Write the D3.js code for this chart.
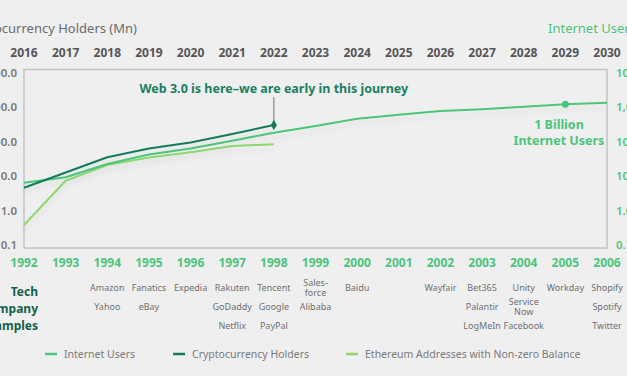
<!DOCTYPE html>
<html lang='en'>
<head>
  <meta charset='UTF-8'>
  <title>Web 3.0 adoption vs Internet</title>
  <style type='text/css'>
    html, body {
      margin: 0;
      padding: 0;
      background: #efefef;
      overflow: hidden;
    }
    svg {
      display: block;
      font-family: 'Noto Sans', sans-serif;
    }
    .line {
      fill: none;
      stroke-width: 2px;
      stroke-linejoin: round;
    }
  </style>
  <script type='text/javascript' src='https://d3js.org/d3.v7.min.js'></script>
</head>
<body>
  <script type='text/javascript'>
    // values (millions, log scale)
    const cryptoYears = [2016, 2017, 2018, 2019, 2020, 2021, 2022, 2023, 2024, 2025, 2026, 2027, 2028, 2029, 2030]
    const internetYears = [1992, 1993, 1994, 1995, 1996, 1997, 1998, 1999, 2000, 2001, 2002, 2003, 2004, 2005, 2006]
    const internetUsers = [6.5, 9.3, 22.6, 43, 64, 108, 184, 288, 470, 614, 786, 881, 1041, 1231, 1370]
    const cryptoHolders = [4.6, 12.8, 35.4, 64, 95, 169, 308]
    const ethAddresses = [0.38, 7.4, 21, 35, 50, 75.5, 85]
    const yTicks = [0.1, 1, 10, 100, 1000, 10000]
    const companies = [
      {year: 1994, names: ['Amazon', 'Yahoo']},
      {year: 1995, names: ['Fanatics', 'eBay']},
      {year: 1996, names: ['Expedia']},
      {year: 1997, names: ['Rakuten', 'GoDaddy', 'Netflix']},
      {year: 1998, names: ['Tencent', 'Google', 'PayPal']},
      {year: 1999, names: ['Sales-\nforce', 'Alibaba']},
      {year: 2000, names: ['Baidu']},
      {year: 2002, names: ['Wayfair']},
      {year: 2003, names: ['Bet365', 'Palantir', 'LogMeIn']},
      {year: 2004, names: ['Unity', 'Service\nNow', 'Facebook']},
      {year: 2005, names: ['Workday']},
      {year: 2006, names: ['Shopify', 'Spotify', 'Twitter']},
    ]
    const seriesNames = ['Internet Users', 'Cryptocurrency Holders', 'Ethereum Addresses with Non-zero Balance']

    const colors = {
      internet: '#4cc47c',
      crypto: '#177a5c',
      eth: '#8dd670',
    }

    const width = 627
    const height = 376

    const svg = d3.select('body').append('svg')
      .attr('width', width)
      .attr('height', height)

    const xTop = d3.scalePoint().domain(cryptoYears).range([24, 607])
    const xBottom = d3.scalePoint().domain(internetYears).range([24, 607])
    const yScale = d3.scaleLog().domain([0.1, 10000]).range([245, 73])

    const defs = svg.append('defs')
    const shadow = defs.append('filter').attr('id', 'shadow')
      .attr('x', '-10%').attr('y', '-50%').attr('width', '120%').attr('height', '200%')
    shadow.append('feDropShadow')
      .attr('dx', 0).attr('dy', 5).attr('stdDeviation', 2.5)
      .attr('flood-color', '#000').attr('flood-opacity', 0.06)

    // frame
    svg.append('rect')
      .attr('x', xTop(2016))
      .attr('y', yScale(10000) - 3.5)
      .attr('width', xTop(2030) - xTop(2016))
      .attr('height', yScale(0.1) - yScale(10000) + 6.5)
      .attr('fill', 'none')
      .attr('stroke', '#c4c4c4')
      .attr('stroke-width', 1.5)

    // titles
    svg.append('text')
      .attr('x', 137).attr('y', 33)
      .attr('text-anchor', 'end')
      .attr('fill', '#6b6b6b')
      .style('font-size', '13px')
      .text('Cryptocurrency Holders (Mn)')

    svg.append('text')
      .attr('x', 548).attr('y', 33)
      .attr('fill', colors.internet)
      .style('font-size', '13px')
      .text('Internet Users (Mn)')

    // top year axis
    svg.append('g').selectAll('text')
      .data(cryptoYears)
      .enter().append('text')
      .attr('x', d => xTop(d))
      .attr('y', 57)
      .attr('text-anchor', 'middle')
      .attr('fill', '#555')
      .style('font-size', '12px')
      .style('font-weight', 700)
      .text(d => d)

    // bottom year axis
    svg.append('g').selectAll('text')
      .data(internetYears)
      .enter().append('text')
      .attr('x', d => xBottom(d))
      .attr('y', 267)
      .attr('text-anchor', 'middle')
      .attr('fill', colors.internet)
      .style('font-size', '12px')
      .style('font-weight', 700)
      .text(d => d)

    const fmt = d3.format(',.1f')

    // left axis
    svg.append('g').selectAll('text')
      .data(yTicks)
      .enter().append('text')
      .attr('x', 17)
      .attr('y', d => yScale(d))
      .attr('dy', '0.35em')
      .attr('text-anchor', 'end')
      .attr('fill', '#777')
      .style('font-size', '11.5px')
      .style('font-weight', 600)
      .text(d => fmt(d))

    // right axis
    svg.append('g').selectAll('text')
      .data(yTicks)
      .enter().append('text')
      .attr('x', 616)
      .attr('y', d => yScale(d))
      .attr('dy', '0.35em')
      .attr('fill', colors.internet)
      .style('font-size', '11.5px')
      .style('font-weight', 600)
      .text(d => fmt(d))

    // lines
    const lineTop = d3.line().x(d => xTop(d[0])).y(d => yScale(d[1]))
    const lineBottom = d3.line().x(d => xBottom(d[0])).y(d => yScale(d[1]))

    const lines = svg.append('g').attr('filter', 'url(#shadow)')

    lines.append('path')
      .datum(ethAddresses.map((v, i) => [cryptoYears[i], v]))
      .attr('class', 'line')
      .attr('stroke', colors.eth)
      .attr('d', lineTop)

    lines.append('path')
      .datum(internetUsers.map((v, i) => [internetYears[i], v]))
      .attr('class', 'line')
      .attr('stroke', colors.internet)
      .attr('d', lineBottom)

    lines.append('path')
      .datum(cryptoHolders.map((v, i) => [cryptoYears[i], v]))
      .attr('class', 'line')
      .attr('stroke', colors.crypto)
      .attr('d', lineTop)

    // annotation on crypto end
    const lastIdx = cryptoHolders.length - 1
    const cx = xTop(cryptoYears[lastIdx])
    const cy = yScale(cryptoHolders[lastIdx])
    svg.append('line')
      .attr('x1', cx).attr('x2', cx)
      .attr('y1', 97).attr('y2', cy)
      .attr('stroke', '#555')
      .attr('stroke-width', 0.8)
    svg.append('path')
      .attr('d', d3.symbol().type(d3.symbolDiamond).size(32))
      .attr('transform', `translate(${cx},${cy})`)
      .attr('fill', colors.crypto)
    svg.append('text')
      .attr('x', cx).attr('y', 93)
      .attr('text-anchor', 'middle')
      .attr('fill', '#1a8060')
      .style('font-size', '12.5px')
      .style('font-weight', 700)
      .text('Web 3.0 is here\u2013we are early in this journey')

    // 1 billion marker
    const bx = xBottom(2005)
    const by = yScale(internetUsers[internetYears.indexOf(2005)])
    svg.append('circle')
      .attr('cx', bx).attr('cy', by).attr('r', 3.5)
      .attr('fill', colors.internet)
    svg.append('text')
      .attr('x', 559).attr('y', 129)
      .attr('text-anchor', 'middle')
      .attr('fill', colors.internet)
      .style('font-size', '12.5px')
      .style('font-weight', 700)
      .text('1 Billion')
    svg.append('text')
      .attr('x', 559).attr('y', 145)
      .attr('text-anchor', 'middle')
      .attr('fill', colors.internet)
      .style('font-size', '12.5px')
      .style('font-weight', 700)
      .text('Internet Users')

    // tech company examples
    const techLabel = svg.append('text')
      .attr('text-anchor', 'end')
      .attr('fill', '#155f4a')
      .style('font-size', '12px')
      .style('font-weight', 700)
    ;['Tech', 'Company', 'Examples'].forEach((t, i) => {
      techLabel.append('tspan').attr('x', 38).attr('y', 296 + i * 17).text(t)
    })

    const rowY = [291, 310, 329]
    const comp = svg.append('g')
      .attr('fill', '#6f6f6f')
      .style('font-size', '9px')
    companies.forEach(c => {
      c.names.forEach((n, i) => {
        const parts = n.split('\n')
        const t = comp.append('text')
          .attr('text-anchor', 'middle')
        parts.forEach((p, j) => {
          t.append('tspan')
            .attr('x', xBottom(c.year))
            .attr('y', rowY[i] + (j - (parts.length - 1) / 2) * 10)
            .text(p)
        })
      })
    })

    // legend
    const legendX = [45, 173, 346]
    const legendColors = [colors.internet, colors.crypto, colors.eth]
    const legend = svg.selectAll('.legend')
      .data(seriesNames)
      .enter().append('g')
      .attr('class', 'legend')
      .attr('transform', (d, i) => `translate(${legendX[i]},354)`)
    legend.append('line')
      .attr('x1', 0).attr('x2', 12)
      .attr('stroke', (d, i) => legendColors[i])
      .attr('stroke-width', 2.5)
    legend.append('text')
      .attr('x', 19)
      .attr('dy', '0.35em')
      .attr('fill', '#7a7a7a')
      .style('font-size', '10.5px')
      .text(d => d)
  </script>
</body>
</html>
